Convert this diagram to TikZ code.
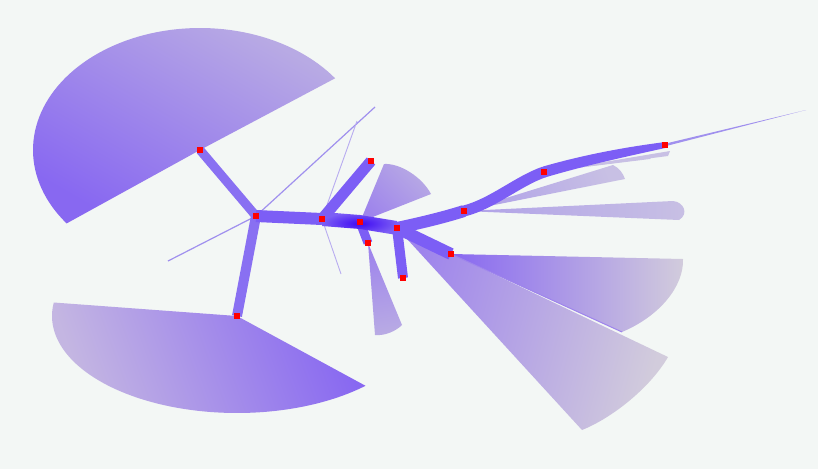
\documentclass[tikz,border=0pt]{standalone}
\usetikzlibrary{calc}
\definecolor{bgc}{RGB}{243,247,245}
\definecolor{brc}{RGB}{124,94,245}
\definecolor{brcl}{RGB}{137,112,242}
\definecolor{deep}{RGB}{62,10,242}
\definecolor{thinc}{RGB}{160,144,238}
\definecolor{faintc}{RGB}{184,172,240}
\definecolor{wsat}{RGB}{136,104,241}
\definecolor{wpale}{RGB}{184,170,228}
\definecolor{wpale2}{RGB}{196,182,226}
\definecolor{wgrey}{RGB}{210,204,220}
\definecolor{wmid}{RGB}{158,132,236}
\definecolor{wlav}{RGB}{176,162,232}
\definecolor{wlav2}{RGB}{200,192,228}
\begin{document}
\begin{tikzpicture}[x=1pt,y=-1pt,
  branch/.style={draw=brc, line cap=butt, line join=round},
  thinln/.style={draw=thinc, line width=1.2pt},
  faintln/.style={draw=faintc, line width=0.9pt},
  dot/.style={fill=red, draw=none, rectangle, inner sep=0pt, minimum size=5.5pt}]
\fill[bgc] (0,0) rectangle (818,469);
\useasboundingbox (0,0) rectangle (818,469);
% tree vertices
\coordinate (A) at (200,150);
\coordinate (B) at (256,216);
\coordinate (C) at (237,316);
\coordinate (D) at (322,219);
\coordinate (E) at (371,161);
\coordinate (F) at (360,222);
\coordinate (G) at (368,243);
\coordinate (H) at (397,228);
\coordinate (I) at (403,278);
\coordinate (J) at (451,254);
\coordinate (K) at (464,211);
\coordinate (L) at (544,172);
\coordinate (M) at (665,145);
% free ends
\coordinate (T1) at (806,110);
\coordinate (P1) at (168,261);
\coordinate (P2) at (375,107);
\coordinate (P3) at (357,121);
\coordinate (P4) at (341,274);
\coordinate (JE) at (622,332);
% big wedges
\shade[top color=wpale, bottom color=wsat, shading angle=-30]
  (A) -- plot[domain=36:217, samples=80, variable=\t] ({200+167*cos(\t)},{150-122*sin(\t)}) -- cycle;
\shade[top color=wpale2, bottom color=wsat, shading angle=110]
  (C) -- plot[domain=172:314, samples=80, variable=\t] ({237+185*cos(\t)},{316-97*sin(\t)}) -- cycle;
\shade[top color=wgrey, bottom color=wmid, shading angle=-105]
  (H) -- (668,357) .. controls (650,388) and (612,418) .. (582,430) -- cycle;
\shade[top color=wgrey, bottom color=wsat, shading angle=-90]
  (J) -- (683,259) .. controls (684,286) and (660,316) .. (JE) -- cycle;
\draw[draw=wmid, line width=1pt] (J) -- (JE);
% small wedges
\shade[top color=wlav2, bottom color=wlav, shading angle=-90]
  (K) -- (673,201) .. controls (684,202) and (689,214) .. (679,220) -- cycle;
\shade[top color=wlav2, bottom color=wlav, shading angle=-70]
  (K) -- (613,165) .. controls (619,168) and (623,173) .. (625,179) -- cycle;
\fill[wlav2] (L) -- (670,151) -- (668,156) -- cycle;
\fill[wlav2] (L) -- (653,155) -- (650,159) -- cycle;
\shade[top color=wpale, bottom color=wmid, shading angle=-45]
  (F) -- (384,164) .. controls (400,163) and (422,177) .. (431,194) -- cycle;
\shade[top color=wpale, bottom color=wmid, shading angle=-170]
  (G) -- (375,335) .. controls (385,336) and (396,331) .. (402,325) -- cycle;
% thin lines
\draw[thinln] (B) -- (P1);
\draw[thinln] (B) -- (P2);
\draw[faintln] (D) -- (P3);
\draw[faintln] (D) -- (P4);
\fill[thinc] ($(M)+(0,-1.3)$) -- (T1) -- ($(M)+(0,1.3)$) -- cycle;
% branches
\draw[branch, draw=brcl, line width=9pt] (A) -- (B);
\draw[branch, draw=brcl, line width=10pt] (B) -- (C);
\draw[branch, line width=12pt] (B) -- (D);
\draw[branch, line width=11pt] (D) -- (E);
\draw[branch, line width=9pt] (F) -- (G);
\draw[branch, line width=10pt] (H) -- (I);
\draw[branch, line width=12pt] (H) -- (J);
\draw[branch, line width=12pt] (H) .. controls (425,222) and (445,217) .. (K);
\draw[branch, line width=11pt, line cap=round] (K) .. controls (492,204) and (518,181) .. (L);
\fill[brc] (542.8,166.6) .. controls (583.8,154.8) and (624.3,147.3) .. (664.4,142.1)
  -- (665.6,147.9) .. controls (625.7,156.7) and (586.2,165.2) .. (545.2,177.4) -- cycle;
\shade[inner color=deep, outer color=brc]
  (322,212) -- (360,215) -- (397,221) -- (397,235) -- (360,229) -- (322,226) -- cycle;
% vertices
\foreach \v in {A,B,C,D,E,F,G,H,I,J,K,L,M} {
  \node[dot] (d\v) at (\v) {};
}
\end{tikzpicture}
\end{document}
